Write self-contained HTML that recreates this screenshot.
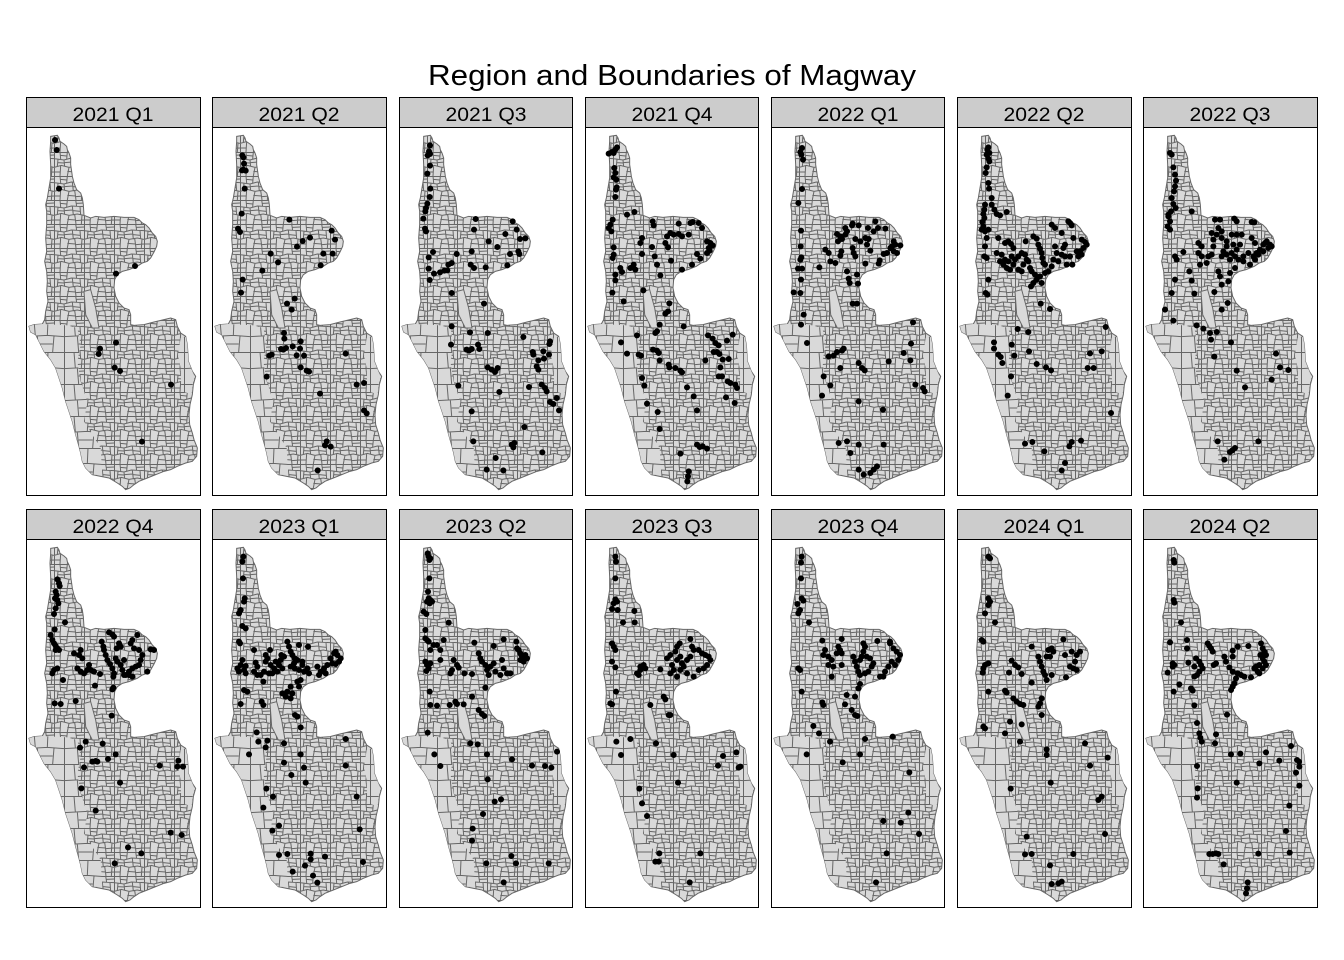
<!DOCTYPE html>
<html><head><meta charset="utf-8"><style>html,body{margin:0;padding:0;background:#fff}svg{display:block}</style></head>
<body>
<svg xmlns="http://www.w3.org/2000/svg" width="1344" height="960" viewBox="0 0 1344 960">
<rect width="1344" height="960" fill="#fff"/>
<defs>
<pattern id="pd" x="0" y="0" width="90" height="72" patternUnits="userSpaceOnUse">
<rect width="90" height="72" fill="#d9d9d9"/>
<path d="M0,1.5H90M1.5,0V72M0,20L30,24L52,18L90,20M0,46L22,40L45,46L70,42L90,46M18,0L20,21M40,0L38,21M65,0L68,19M12,22L10,43M30,24L32,44M55,19L58,45M78,20L80,45M20,41L18,72M45,46L40,72M62,43L66,72M84,46L82,72M0,60H20M40,58L64,60M66,62L90,60M32,32L55,30M68,10L90,9M20,10L38,12M10,32L30,33M58,32L79,34" stroke="#666" stroke-width="3" fill="none"/>
</pattern>
<pattern id="ps" x="0" y="0" width="120" height="96" patternUnits="userSpaceOnUse">
<rect width="120" height="96" fill="#d9d9d9"/>
<path d="M0,1.5H120M1.5,0V96M0,50L70,46L120,50M70,46L72,0M90,48L86,96M40,48L44,96M30,0L34,48M44,72H86" stroke="#666" stroke-width="3" fill="none"/>
</pattern>
</defs>

<text x="672" y="85" text-anchor="middle" font-family="Liberation Sans, Arial, sans-serif" font-size="29" textLength="488" lengthAdjust="spacingAndGlyphs" fill="#000">Region and Boundaries of Magway</text>

<g fill="#ccc" stroke="#000" stroke-width="1">
<rect x="26.5" y="97.5" width="174" height="30"/>
<rect x="212.5" y="97.5" width="174" height="30"/>
<rect x="399.5" y="97.5" width="173" height="30"/>
<rect x="585.5" y="97.5" width="173" height="30"/>
<rect x="771.5" y="97.5" width="173" height="30"/>
<rect x="957.5" y="97.5" width="174" height="30"/>
<rect x="1143.5" y="97.5" width="174" height="30"/>
<rect x="26.5" y="509.5" width="174" height="30"/>
<rect x="212.5" y="509.5" width="174" height="30"/>
<rect x="399.5" y="509.5" width="173" height="30"/>
<rect x="585.5" y="509.5" width="173" height="30"/>
<rect x="771.5" y="509.5" width="173" height="30"/>
<rect x="957.5" y="509.5" width="174" height="30"/>
<rect x="1143.5" y="509.5" width="174" height="30"/>
</g>
<g font-family="Liberation Sans, Arial, sans-serif" font-size="19.5" text-anchor="middle" fill="#000">
<text x="113" y="121" textLength="81" lengthAdjust="spacingAndGlyphs">2021 Q1</text>
<text x="299" y="121" textLength="81" lengthAdjust="spacingAndGlyphs">2021 Q2</text>
<text x="486" y="121" textLength="81" lengthAdjust="spacingAndGlyphs">2021 Q3</text>
<text x="672" y="121" textLength="81" lengthAdjust="spacingAndGlyphs">2021 Q4</text>
<text x="858" y="121" textLength="81" lengthAdjust="spacingAndGlyphs">2022 Q1</text>
<text x="1044" y="121" textLength="81" lengthAdjust="spacingAndGlyphs">2022 Q2</text>
<text x="1230" y="121" textLength="81" lengthAdjust="spacingAndGlyphs">2022 Q3</text>
<text x="113" y="533" textLength="81" lengthAdjust="spacingAndGlyphs">2022 Q4</text>
<text x="299" y="533" textLength="81" lengthAdjust="spacingAndGlyphs">2023 Q1</text>
<text x="486" y="533" textLength="81" lengthAdjust="spacingAndGlyphs">2023 Q2</text>
<text x="672" y="533" textLength="81" lengthAdjust="spacingAndGlyphs">2023 Q3</text>
<text x="858" y="533" textLength="81" lengthAdjust="spacingAndGlyphs">2023 Q4</text>
<text x="1044" y="533" textLength="81" lengthAdjust="spacingAndGlyphs">2024 Q1</text>
<text x="1230" y="533" textLength="81" lengthAdjust="spacingAndGlyphs">2024 Q2</text>
</g>

<!-- maps (inline copies) -->
<g transform="translate(24,128) scale(0.333333)">
<path d="M80,25L100,22L105,30L108,40L120,48L128,55L130,65L135,75L140,90L140,110L143,130L145,145L150,165L158,185L170,195L175,210L178,230L180,262L200,270L215,265L240,268L270,265L300,268L330,268L345,275L355,285L365,290L375,300L385,315L395,325L400,340L398,355L390,372L380,390L370,400L355,405L340,415L315,425L295,430L280,440L272,455L270,480L275,505L285,525L300,540L315,545L320,560L320,590L330,592L360,590L390,582L420,575L440,570L455,575L460,595L470,615L485,625L490,650L492,680L493,700L505,730L515,745L508,770L505,800L498,830L495,860L497,890L505,915L510,935L520,960L518,985L505,1000L485,1005L460,1015L440,1025L420,1030L395,1040L370,1050L345,1060L330,1070L318,1080L305,1085L295,1075L280,1065L255,1050L230,1045L205,1040L185,1020L175,1000L170,975L165,955L155,920L145,880L135,850L125,820L115,780L105,750L95,720L80,695L60,670L45,640L35,620L20,612L15,595L30,590L55,588L62,575L65,550L72,520L68,490L70,460L68,430L62,400L68,370L65,330L68,290L68,250L65,230L70,210L75,180L80,150L80,110L78,70L80,40Z" fill="url(#pd)" stroke="#666" stroke-width="3"/>
<path d="M205,1040L185,1020L175,1000L170,975L165,955L155,920L145,880L135,850L125,820L115,780L105,750L95,720L80,695L60,670L45,640L35,620L20,612L15,595L30,590L55,588L130,592L160,600L170,650L160,700L170,760L190,820L180,880L230,960L235,1042Z" fill="url(#ps)"/>
<path d="M485,625L490,650L492,680L493,700L505,730L512,745L506,770L503,798L472,790L470,720L462,680L470,630Z" fill="url(#ps)"/>
<path d="M180,490L200,485L215,540L225,600L205,600L185,560Z" fill="#d9d9d9" stroke="#666" stroke-width="3"/>
</g>
<g transform="translate(210,128) scale(0.333333)">
<path d="M80,25L100,22L105,30L108,40L120,48L128,55L130,65L135,75L140,90L140,110L143,130L145,145L150,165L158,185L170,195L175,210L178,230L180,262L200,270L215,265L240,268L270,265L300,268L330,268L345,275L355,285L365,290L375,300L385,315L395,325L400,340L398,355L390,372L380,390L370,400L355,405L340,415L315,425L295,430L280,440L272,455L270,480L275,505L285,525L300,540L315,545L320,560L320,590L330,592L360,590L390,582L420,575L440,570L455,575L460,595L470,615L485,625L490,650L492,680L493,700L505,730L515,745L508,770L505,800L498,830L495,860L497,890L505,915L510,935L520,960L518,985L505,1000L485,1005L460,1015L440,1025L420,1030L395,1040L370,1050L345,1060L330,1070L318,1080L305,1085L295,1075L280,1065L255,1050L230,1045L205,1040L185,1020L175,1000L170,975L165,955L155,920L145,880L135,850L125,820L115,780L105,750L95,720L80,695L60,670L45,640L35,620L20,612L15,595L30,590L55,588L62,575L65,550L72,520L68,490L70,460L68,430L62,400L68,370L65,330L68,290L68,250L65,230L70,210L75,180L80,150L80,110L78,70L80,40Z" fill="url(#pd)" stroke="#666" stroke-width="3"/>
<path d="M205,1040L185,1020L175,1000L170,975L165,955L155,920L145,880L135,850L125,820L115,780L105,750L95,720L80,695L60,670L45,640L35,620L20,612L15,595L30,590L55,588L130,592L160,600L170,650L160,700L170,760L190,820L180,880L230,960L235,1042Z" fill="url(#ps)"/>
<path d="M485,625L490,650L492,680L493,700L505,730L512,745L506,770L503,798L472,790L470,720L462,680L470,630Z" fill="url(#ps)"/>
<path d="M180,490L200,485L215,540L225,600L205,600L185,560Z" fill="#d9d9d9" stroke="#666" stroke-width="3"/>
</g>
<g transform="translate(397,128) scale(0.333333)">
<path d="M80,25L100,22L105,30L108,40L120,48L128,55L130,65L135,75L140,90L140,110L143,130L145,145L150,165L158,185L170,195L175,210L178,230L180,262L200,270L215,265L240,268L270,265L300,268L330,268L345,275L355,285L365,290L375,300L385,315L395,325L400,340L398,355L390,372L380,390L370,400L355,405L340,415L315,425L295,430L280,440L272,455L270,480L275,505L285,525L300,540L315,545L320,560L320,590L330,592L360,590L390,582L420,575L440,570L455,575L460,595L470,615L485,625L490,650L492,680L493,700L505,730L515,745L508,770L505,800L498,830L495,860L497,890L505,915L510,935L520,960L518,985L505,1000L485,1005L460,1015L440,1025L420,1030L395,1040L370,1050L345,1060L330,1070L318,1080L305,1085L295,1075L280,1065L255,1050L230,1045L205,1040L185,1020L175,1000L170,975L165,955L155,920L145,880L135,850L125,820L115,780L105,750L95,720L80,695L60,670L45,640L35,620L20,612L15,595L30,590L55,588L62,575L65,550L72,520L68,490L70,460L68,430L62,400L68,370L65,330L68,290L68,250L65,230L70,210L75,180L80,150L80,110L78,70L80,40Z" fill="url(#pd)" stroke="#666" stroke-width="3"/>
<path d="M205,1040L185,1020L175,1000L170,975L165,955L155,920L145,880L135,850L125,820L115,780L105,750L95,720L80,695L60,670L45,640L35,620L20,612L15,595L30,590L55,588L130,592L160,600L170,650L160,700L170,760L190,820L180,880L230,960L235,1042Z" fill="url(#ps)"/>
<path d="M485,625L490,650L492,680L493,700L505,730L512,745L506,770L503,798L472,790L470,720L462,680L470,630Z" fill="url(#ps)"/>
<path d="M180,490L200,485L215,540L225,600L205,600L185,560Z" fill="#d9d9d9" stroke="#666" stroke-width="3"/>
</g>
<g transform="translate(583,128) scale(0.333333)">
<path d="M80,25L100,22L105,30L108,40L120,48L128,55L130,65L135,75L140,90L140,110L143,130L145,145L150,165L158,185L170,195L175,210L178,230L180,262L200,270L215,265L240,268L270,265L300,268L330,268L345,275L355,285L365,290L375,300L385,315L395,325L400,340L398,355L390,372L380,390L370,400L355,405L340,415L315,425L295,430L280,440L272,455L270,480L275,505L285,525L300,540L315,545L320,560L320,590L330,592L360,590L390,582L420,575L440,570L455,575L460,595L470,615L485,625L490,650L492,680L493,700L505,730L515,745L508,770L505,800L498,830L495,860L497,890L505,915L510,935L520,960L518,985L505,1000L485,1005L460,1015L440,1025L420,1030L395,1040L370,1050L345,1060L330,1070L318,1080L305,1085L295,1075L280,1065L255,1050L230,1045L205,1040L185,1020L175,1000L170,975L165,955L155,920L145,880L135,850L125,820L115,780L105,750L95,720L80,695L60,670L45,640L35,620L20,612L15,595L30,590L55,588L62,575L65,550L72,520L68,490L70,460L68,430L62,400L68,370L65,330L68,290L68,250L65,230L70,210L75,180L80,150L80,110L78,70L80,40Z" fill="url(#pd)" stroke="#666" stroke-width="3"/>
<path d="M205,1040L185,1020L175,1000L170,975L165,955L155,920L145,880L135,850L125,820L115,780L105,750L95,720L80,695L60,670L45,640L35,620L20,612L15,595L30,590L55,588L130,592L160,600L170,650L160,700L170,760L190,820L180,880L230,960L235,1042Z" fill="url(#ps)"/>
<path d="M485,625L490,650L492,680L493,700L505,730L512,745L506,770L503,798L472,790L470,720L462,680L470,630Z" fill="url(#ps)"/>
<path d="M180,490L200,485L215,540L225,600L205,600L185,560Z" fill="#d9d9d9" stroke="#666" stroke-width="3"/>
</g>
<g transform="translate(769,128) scale(0.333333)">
<path d="M80,25L100,22L105,30L108,40L120,48L128,55L130,65L135,75L140,90L140,110L143,130L145,145L150,165L158,185L170,195L175,210L178,230L180,262L200,270L215,265L240,268L270,265L300,268L330,268L345,275L355,285L365,290L375,300L385,315L395,325L400,340L398,355L390,372L380,390L370,400L355,405L340,415L315,425L295,430L280,440L272,455L270,480L275,505L285,525L300,540L315,545L320,560L320,590L330,592L360,590L390,582L420,575L440,570L455,575L460,595L470,615L485,625L490,650L492,680L493,700L505,730L515,745L508,770L505,800L498,830L495,860L497,890L505,915L510,935L520,960L518,985L505,1000L485,1005L460,1015L440,1025L420,1030L395,1040L370,1050L345,1060L330,1070L318,1080L305,1085L295,1075L280,1065L255,1050L230,1045L205,1040L185,1020L175,1000L170,975L165,955L155,920L145,880L135,850L125,820L115,780L105,750L95,720L80,695L60,670L45,640L35,620L20,612L15,595L30,590L55,588L62,575L65,550L72,520L68,490L70,460L68,430L62,400L68,370L65,330L68,290L68,250L65,230L70,210L75,180L80,150L80,110L78,70L80,40Z" fill="url(#pd)" stroke="#666" stroke-width="3"/>
<path d="M205,1040L185,1020L175,1000L170,975L165,955L155,920L145,880L135,850L125,820L115,780L105,750L95,720L80,695L60,670L45,640L35,620L20,612L15,595L30,590L55,588L130,592L160,600L170,650L160,700L170,760L190,820L180,880L230,960L235,1042Z" fill="url(#ps)"/>
<path d="M485,625L490,650L492,680L493,700L505,730L512,745L506,770L503,798L472,790L470,720L462,680L470,630Z" fill="url(#ps)"/>
<path d="M180,490L200,485L215,540L225,600L205,600L185,560Z" fill="#d9d9d9" stroke="#666" stroke-width="3"/>
</g>
<g transform="translate(955,128) scale(0.333333)">
<path d="M80,25L100,22L105,30L108,40L120,48L128,55L130,65L135,75L140,90L140,110L143,130L145,145L150,165L158,185L170,195L175,210L178,230L180,262L200,270L215,265L240,268L270,265L300,268L330,268L345,275L355,285L365,290L375,300L385,315L395,325L400,340L398,355L390,372L380,390L370,400L355,405L340,415L315,425L295,430L280,440L272,455L270,480L275,505L285,525L300,540L315,545L320,560L320,590L330,592L360,590L390,582L420,575L440,570L455,575L460,595L470,615L485,625L490,650L492,680L493,700L505,730L515,745L508,770L505,800L498,830L495,860L497,890L505,915L510,935L520,960L518,985L505,1000L485,1005L460,1015L440,1025L420,1030L395,1040L370,1050L345,1060L330,1070L318,1080L305,1085L295,1075L280,1065L255,1050L230,1045L205,1040L185,1020L175,1000L170,975L165,955L155,920L145,880L135,850L125,820L115,780L105,750L95,720L80,695L60,670L45,640L35,620L20,612L15,595L30,590L55,588L62,575L65,550L72,520L68,490L70,460L68,430L62,400L68,370L65,330L68,290L68,250L65,230L70,210L75,180L80,150L80,110L78,70L80,40Z" fill="url(#pd)" stroke="#666" stroke-width="3"/>
<path d="M205,1040L185,1020L175,1000L170,975L165,955L155,920L145,880L135,850L125,820L115,780L105,750L95,720L80,695L60,670L45,640L35,620L20,612L15,595L30,590L55,588L130,592L160,600L170,650L160,700L170,760L190,820L180,880L230,960L235,1042Z" fill="url(#ps)"/>
<path d="M485,625L490,650L492,680L493,700L505,730L512,745L506,770L503,798L472,790L470,720L462,680L470,630Z" fill="url(#ps)"/>
<path d="M180,490L200,485L215,540L225,600L205,600L185,560Z" fill="#d9d9d9" stroke="#666" stroke-width="3"/>
</g>
<g transform="translate(1141,128) scale(0.333333)">
<path d="M80,25L100,22L105,30L108,40L120,48L128,55L130,65L135,75L140,90L140,110L143,130L145,145L150,165L158,185L170,195L175,210L178,230L180,262L200,270L215,265L240,268L270,265L300,268L330,268L345,275L355,285L365,290L375,300L385,315L395,325L400,340L398,355L390,372L380,390L370,400L355,405L340,415L315,425L295,430L280,440L272,455L270,480L275,505L285,525L300,540L315,545L320,560L320,590L330,592L360,590L390,582L420,575L440,570L455,575L460,595L470,615L485,625L490,650L492,680L493,700L505,730L515,745L508,770L505,800L498,830L495,860L497,890L505,915L510,935L520,960L518,985L505,1000L485,1005L460,1015L440,1025L420,1030L395,1040L370,1050L345,1060L330,1070L318,1080L305,1085L295,1075L280,1065L255,1050L230,1045L205,1040L185,1020L175,1000L170,975L165,955L155,920L145,880L135,850L125,820L115,780L105,750L95,720L80,695L60,670L45,640L35,620L20,612L15,595L30,590L55,588L62,575L65,550L72,520L68,490L70,460L68,430L62,400L68,370L65,330L68,290L68,250L65,230L70,210L75,180L80,150L80,110L78,70L80,40Z" fill="url(#pd)" stroke="#666" stroke-width="3"/>
<path d="M205,1040L185,1020L175,1000L170,975L165,955L155,920L145,880L135,850L125,820L115,780L105,750L95,720L80,695L60,670L45,640L35,620L20,612L15,595L30,590L55,588L130,592L160,600L170,650L160,700L170,760L190,820L180,880L230,960L235,1042Z" fill="url(#ps)"/>
<path d="M485,625L490,650L492,680L493,700L505,730L512,745L506,770L503,798L472,790L470,720L462,680L470,630Z" fill="url(#ps)"/>
<path d="M180,490L200,485L215,540L225,600L205,600L185,560Z" fill="#d9d9d9" stroke="#666" stroke-width="3"/>
</g>
<g transform="translate(24,540) scale(0.333333)">
<path d="M80,25L100,22L105,30L108,40L120,48L128,55L130,65L135,75L140,90L140,110L143,130L145,145L150,165L158,185L170,195L175,210L178,230L180,262L200,270L215,265L240,268L270,265L300,268L330,268L345,275L355,285L365,290L375,300L385,315L395,325L400,340L398,355L390,372L380,390L370,400L355,405L340,415L315,425L295,430L280,440L272,455L270,480L275,505L285,525L300,540L315,545L320,560L320,590L330,592L360,590L390,582L420,575L440,570L455,575L460,595L470,615L485,625L490,650L492,680L493,700L505,730L515,745L508,770L505,800L498,830L495,860L497,890L505,915L510,935L520,960L518,985L505,1000L485,1005L460,1015L440,1025L420,1030L395,1040L370,1050L345,1060L330,1070L318,1080L305,1085L295,1075L280,1065L255,1050L230,1045L205,1040L185,1020L175,1000L170,975L165,955L155,920L145,880L135,850L125,820L115,780L105,750L95,720L80,695L60,670L45,640L35,620L20,612L15,595L30,590L55,588L62,575L65,550L72,520L68,490L70,460L68,430L62,400L68,370L65,330L68,290L68,250L65,230L70,210L75,180L80,150L80,110L78,70L80,40Z" fill="url(#pd)" stroke="#666" stroke-width="3"/>
<path d="M205,1040L185,1020L175,1000L170,975L165,955L155,920L145,880L135,850L125,820L115,780L105,750L95,720L80,695L60,670L45,640L35,620L20,612L15,595L30,590L55,588L130,592L160,600L170,650L160,700L170,760L190,820L180,880L230,960L235,1042Z" fill="url(#ps)"/>
<path d="M485,625L490,650L492,680L493,700L505,730L512,745L506,770L503,798L472,790L470,720L462,680L470,630Z" fill="url(#ps)"/>
<path d="M180,490L200,485L215,540L225,600L205,600L185,560Z" fill="#d9d9d9" stroke="#666" stroke-width="3"/>
</g>
<g transform="translate(210,540) scale(0.333333)">
<path d="M80,25L100,22L105,30L108,40L120,48L128,55L130,65L135,75L140,90L140,110L143,130L145,145L150,165L158,185L170,195L175,210L178,230L180,262L200,270L215,265L240,268L270,265L300,268L330,268L345,275L355,285L365,290L375,300L385,315L395,325L400,340L398,355L390,372L380,390L370,400L355,405L340,415L315,425L295,430L280,440L272,455L270,480L275,505L285,525L300,540L315,545L320,560L320,590L330,592L360,590L390,582L420,575L440,570L455,575L460,595L470,615L485,625L490,650L492,680L493,700L505,730L515,745L508,770L505,800L498,830L495,860L497,890L505,915L510,935L520,960L518,985L505,1000L485,1005L460,1015L440,1025L420,1030L395,1040L370,1050L345,1060L330,1070L318,1080L305,1085L295,1075L280,1065L255,1050L230,1045L205,1040L185,1020L175,1000L170,975L165,955L155,920L145,880L135,850L125,820L115,780L105,750L95,720L80,695L60,670L45,640L35,620L20,612L15,595L30,590L55,588L62,575L65,550L72,520L68,490L70,460L68,430L62,400L68,370L65,330L68,290L68,250L65,230L70,210L75,180L80,150L80,110L78,70L80,40Z" fill="url(#pd)" stroke="#666" stroke-width="3"/>
<path d="M205,1040L185,1020L175,1000L170,975L165,955L155,920L145,880L135,850L125,820L115,780L105,750L95,720L80,695L60,670L45,640L35,620L20,612L15,595L30,590L55,588L130,592L160,600L170,650L160,700L170,760L190,820L180,880L230,960L235,1042Z" fill="url(#ps)"/>
<path d="M485,625L490,650L492,680L493,700L505,730L512,745L506,770L503,798L472,790L470,720L462,680L470,630Z" fill="url(#ps)"/>
<path d="M180,490L200,485L215,540L225,600L205,600L185,560Z" fill="#d9d9d9" stroke="#666" stroke-width="3"/>
</g>
<g transform="translate(397,540) scale(0.333333)">
<path d="M80,25L100,22L105,30L108,40L120,48L128,55L130,65L135,75L140,90L140,110L143,130L145,145L150,165L158,185L170,195L175,210L178,230L180,262L200,270L215,265L240,268L270,265L300,268L330,268L345,275L355,285L365,290L375,300L385,315L395,325L400,340L398,355L390,372L380,390L370,400L355,405L340,415L315,425L295,430L280,440L272,455L270,480L275,505L285,525L300,540L315,545L320,560L320,590L330,592L360,590L390,582L420,575L440,570L455,575L460,595L470,615L485,625L490,650L492,680L493,700L505,730L515,745L508,770L505,800L498,830L495,860L497,890L505,915L510,935L520,960L518,985L505,1000L485,1005L460,1015L440,1025L420,1030L395,1040L370,1050L345,1060L330,1070L318,1080L305,1085L295,1075L280,1065L255,1050L230,1045L205,1040L185,1020L175,1000L170,975L165,955L155,920L145,880L135,850L125,820L115,780L105,750L95,720L80,695L60,670L45,640L35,620L20,612L15,595L30,590L55,588L62,575L65,550L72,520L68,490L70,460L68,430L62,400L68,370L65,330L68,290L68,250L65,230L70,210L75,180L80,150L80,110L78,70L80,40Z" fill="url(#pd)" stroke="#666" stroke-width="3"/>
<path d="M205,1040L185,1020L175,1000L170,975L165,955L155,920L145,880L135,850L125,820L115,780L105,750L95,720L80,695L60,670L45,640L35,620L20,612L15,595L30,590L55,588L130,592L160,600L170,650L160,700L170,760L190,820L180,880L230,960L235,1042Z" fill="url(#ps)"/>
<path d="M485,625L490,650L492,680L493,700L505,730L512,745L506,770L503,798L472,790L470,720L462,680L470,630Z" fill="url(#ps)"/>
<path d="M180,490L200,485L215,540L225,600L205,600L185,560Z" fill="#d9d9d9" stroke="#666" stroke-width="3"/>
</g>
<g transform="translate(583,540) scale(0.333333)">
<path d="M80,25L100,22L105,30L108,40L120,48L128,55L130,65L135,75L140,90L140,110L143,130L145,145L150,165L158,185L170,195L175,210L178,230L180,262L200,270L215,265L240,268L270,265L300,268L330,268L345,275L355,285L365,290L375,300L385,315L395,325L400,340L398,355L390,372L380,390L370,400L355,405L340,415L315,425L295,430L280,440L272,455L270,480L275,505L285,525L300,540L315,545L320,560L320,590L330,592L360,590L390,582L420,575L440,570L455,575L460,595L470,615L485,625L490,650L492,680L493,700L505,730L515,745L508,770L505,800L498,830L495,860L497,890L505,915L510,935L520,960L518,985L505,1000L485,1005L460,1015L440,1025L420,1030L395,1040L370,1050L345,1060L330,1070L318,1080L305,1085L295,1075L280,1065L255,1050L230,1045L205,1040L185,1020L175,1000L170,975L165,955L155,920L145,880L135,850L125,820L115,780L105,750L95,720L80,695L60,670L45,640L35,620L20,612L15,595L30,590L55,588L62,575L65,550L72,520L68,490L70,460L68,430L62,400L68,370L65,330L68,290L68,250L65,230L70,210L75,180L80,150L80,110L78,70L80,40Z" fill="url(#pd)" stroke="#666" stroke-width="3"/>
<path d="M205,1040L185,1020L175,1000L170,975L165,955L155,920L145,880L135,850L125,820L115,780L105,750L95,720L80,695L60,670L45,640L35,620L20,612L15,595L30,590L55,588L130,592L160,600L170,650L160,700L170,760L190,820L180,880L230,960L235,1042Z" fill="url(#ps)"/>
<path d="M485,625L490,650L492,680L493,700L505,730L512,745L506,770L503,798L472,790L470,720L462,680L470,630Z" fill="url(#ps)"/>
<path d="M180,490L200,485L215,540L225,600L205,600L185,560Z" fill="#d9d9d9" stroke="#666" stroke-width="3"/>
</g>
<g transform="translate(769,540) scale(0.333333)">
<path d="M80,25L100,22L105,30L108,40L120,48L128,55L130,65L135,75L140,90L140,110L143,130L145,145L150,165L158,185L170,195L175,210L178,230L180,262L200,270L215,265L240,268L270,265L300,268L330,268L345,275L355,285L365,290L375,300L385,315L395,325L400,340L398,355L390,372L380,390L370,400L355,405L340,415L315,425L295,430L280,440L272,455L270,480L275,505L285,525L300,540L315,545L320,560L320,590L330,592L360,590L390,582L420,575L440,570L455,575L460,595L470,615L485,625L490,650L492,680L493,700L505,730L515,745L508,770L505,800L498,830L495,860L497,890L505,915L510,935L520,960L518,985L505,1000L485,1005L460,1015L440,1025L420,1030L395,1040L370,1050L345,1060L330,1070L318,1080L305,1085L295,1075L280,1065L255,1050L230,1045L205,1040L185,1020L175,1000L170,975L165,955L155,920L145,880L135,850L125,820L115,780L105,750L95,720L80,695L60,670L45,640L35,620L20,612L15,595L30,590L55,588L62,575L65,550L72,520L68,490L70,460L68,430L62,400L68,370L65,330L68,290L68,250L65,230L70,210L75,180L80,150L80,110L78,70L80,40Z" fill="url(#pd)" stroke="#666" stroke-width="3"/>
<path d="M205,1040L185,1020L175,1000L170,975L165,955L155,920L145,880L135,850L125,820L115,780L105,750L95,720L80,695L60,670L45,640L35,620L20,612L15,595L30,590L55,588L130,592L160,600L170,650L160,700L170,760L190,820L180,880L230,960L235,1042Z" fill="url(#ps)"/>
<path d="M485,625L490,650L492,680L493,700L505,730L512,745L506,770L503,798L472,790L470,720L462,680L470,630Z" fill="url(#ps)"/>
<path d="M180,490L200,485L215,540L225,600L205,600L185,560Z" fill="#d9d9d9" stroke="#666" stroke-width="3"/>
</g>
<g transform="translate(955,540) scale(0.333333)">
<path d="M80,25L100,22L105,30L108,40L120,48L128,55L130,65L135,75L140,90L140,110L143,130L145,145L150,165L158,185L170,195L175,210L178,230L180,262L200,270L215,265L240,268L270,265L300,268L330,268L345,275L355,285L365,290L375,300L385,315L395,325L400,340L398,355L390,372L380,390L370,400L355,405L340,415L315,425L295,430L280,440L272,455L270,480L275,505L285,525L300,540L315,545L320,560L320,590L330,592L360,590L390,582L420,575L440,570L455,575L460,595L470,615L485,625L490,650L492,680L493,700L505,730L515,745L508,770L505,800L498,830L495,860L497,890L505,915L510,935L520,960L518,985L505,1000L485,1005L460,1015L440,1025L420,1030L395,1040L370,1050L345,1060L330,1070L318,1080L305,1085L295,1075L280,1065L255,1050L230,1045L205,1040L185,1020L175,1000L170,975L165,955L155,920L145,880L135,850L125,820L115,780L105,750L95,720L80,695L60,670L45,640L35,620L20,612L15,595L30,590L55,588L62,575L65,550L72,520L68,490L70,460L68,430L62,400L68,370L65,330L68,290L68,250L65,230L70,210L75,180L80,150L80,110L78,70L80,40Z" fill="url(#pd)" stroke="#666" stroke-width="3"/>
<path d="M205,1040L185,1020L175,1000L170,975L165,955L155,920L145,880L135,850L125,820L115,780L105,750L95,720L80,695L60,670L45,640L35,620L20,612L15,595L30,590L55,588L130,592L160,600L170,650L160,700L170,760L190,820L180,880L230,960L235,1042Z" fill="url(#ps)"/>
<path d="M485,625L490,650L492,680L493,700L505,730L512,745L506,770L503,798L472,790L470,720L462,680L470,630Z" fill="url(#ps)"/>
<path d="M180,490L200,485L215,540L225,600L205,600L185,560Z" fill="#d9d9d9" stroke="#666" stroke-width="3"/>
</g>
<g transform="translate(1141,540) scale(0.333333)">
<path d="M80,25L100,22L105,30L108,40L120,48L128,55L130,65L135,75L140,90L140,110L143,130L145,145L150,165L158,185L170,195L175,210L178,230L180,262L200,270L215,265L240,268L270,265L300,268L330,268L345,275L355,285L365,290L375,300L385,315L395,325L400,340L398,355L390,372L380,390L370,400L355,405L340,415L315,425L295,430L280,440L272,455L270,480L275,505L285,525L300,540L315,545L320,560L320,590L330,592L360,590L390,582L420,575L440,570L455,575L460,595L470,615L485,625L490,650L492,680L493,700L505,730L515,745L508,770L505,800L498,830L495,860L497,890L505,915L510,935L520,960L518,985L505,1000L485,1005L460,1015L440,1025L420,1030L395,1040L370,1050L345,1060L330,1070L318,1080L305,1085L295,1075L280,1065L255,1050L230,1045L205,1040L185,1020L175,1000L170,975L165,955L155,920L145,880L135,850L125,820L115,780L105,750L95,720L80,695L60,670L45,640L35,620L20,612L15,595L30,590L55,588L62,575L65,550L72,520L68,490L70,460L68,430L62,400L68,370L65,330L68,290L68,250L65,230L70,210L75,180L80,150L80,110L78,70L80,40Z" fill="url(#pd)" stroke="#666" stroke-width="3"/>
<path d="M205,1040L185,1020L175,1000L170,975L165,955L155,920L145,880L135,850L125,820L115,780L105,750L95,720L80,695L60,670L45,640L35,620L20,612L15,595L30,590L55,588L130,592L160,600L170,650L160,700L170,760L190,820L180,880L230,960L235,1042Z" fill="url(#ps)"/>
<path d="M485,625L490,650L492,680L493,700L505,730L512,745L506,770L503,798L472,790L470,720L462,680L470,630Z" fill="url(#ps)"/>
<path d="M180,490L200,485L215,540L225,600L205,600L185,560Z" fill="#d9d9d9" stroke="#666" stroke-width="3"/>
</g>

<!-- panel frames -->
<g fill="none" stroke="#000" stroke-width="1">
<rect x="26.5" y="127.5" width="174" height="368"/>
<rect x="212.5" y="127.5" width="174" height="368"/>
<rect x="399.5" y="127.5" width="173" height="368"/>
<rect x="585.5" y="127.5" width="173" height="368"/>
<rect x="771.5" y="127.5" width="173" height="368"/>
<rect x="957.5" y="127.5" width="174" height="368"/>
<rect x="1143.5" y="127.5" width="174" height="368"/>
<rect x="26.5" y="539.5" width="174" height="368"/>
<rect x="212.5" y="539.5" width="174" height="368"/>
<rect x="399.5" y="539.5" width="173" height="368"/>
<rect x="585.5" y="539.5" width="173" height="368"/>
<rect x="771.5" y="539.5" width="173" height="368"/>
<rect x="957.5" y="539.5" width="174" height="368"/>
<rect x="1143.5" y="539.5" width="174" height="368"/>
</g>

<!-- dots -->
<g fill="none" stroke="#000" stroke-width="18" stroke-linecap="round">
<path transform="translate(20,90) scale(0.333333)" d="M105 150h0.1M110 180h0.1M117 296h0.1M345 528h0.1M288 551h0.1M288 758h0.1M240 776h0.1M236 792h0.1M284 833h0.1M300 843h0.1M453 884h0.1M366 1055h0.1"/>

<path transform="translate(210,128) scale(0.333333)" d="M97 82h0.1M100 88h0.1M102 107h0.1M100 125h0.1M107 128h0.1M96 127h0.1M104 182h0.1M95 257h0.1M84 302h0.1M90 312h0.1M238 275h0.1M365 308h0.1M300 329h0.1M278 339h0.1M375 335h0.1M261 356h0.1M182 377h0.1M340 377h0.1M368 377h0.1M204 403h0.1M332 412h0.1M157 428h0.1M98 455h0.1M93 494h0.1M254 512h0.1M231 527h0.1M245 545h0.1M222 615h0.1M223 632h0.1M213 663h0.1M220 665h0.1M228 660h0.1M248 655h0.1M272 640h0.1M270 662h0.1M178 683h0.1M185 680h0.1M260 682h0.1M282 683h0.1M272 718h0.1M290 728h0.1M297 731h0.1M407 677h0.1M170 746h0.1M330 797h0.1M440 770h0.1M462 765h0.1M462 847h0.1M470 856h0.1M350 940h0.1M345 952h0.1M362 956h0.1M323 1027h0.1
M660 52h0.1M657 70h0.1M660 78h0.1M653 82h0.1M660 113h0.1M652 137h0.1M661 182h0.1M659 207h0.1M652 227h0.1M648 240h0.1M646 250h0.1M640 272h0.1M645 302h0.1M648 310h0.1M797 273h0.1M908 280h0.1M792 305h0.1M920 305h0.1M930 333h0.1M946 331h0.1M886 318h0.1M836 340h0.1M862 357h0.1M785 370h0.1M740 378h0.1M669 372h0.1M925 370h0.1M928 378h0.1M900 378h0.1M656 388h0.1M715 410h0.1M725 405h0.1M703 428h0.1M690 433h0.1M712 427h0.1M782 410h0.1M792 420h0.1M827 418h0.1M892 412h0.1M656 422h0.1M672 437h0.1M659 456h0.1M725 495h0.1M822 527h0.1M725 595h0.1M780 613h0.1M833 615h0.1M940 627h0.1M1020 640h0.1M1018 648h0.1M723 650h0.1M770 665h0.1M785 663h0.1M777 668h0.1M808 663h0.1M804 650h0.1M968 672h0.1M970 680h0.1M1000 670h0.1M1017 680h0.1M985 697h0.1M1002 692h0.1M980 715h0.1M985 725h0.1M833 718h0.1M845 725h0.1M855 732h0.1M863 720h0.1M745 773h0.1M868 792h0.1M957 777h0.1M995 770h0.1M1005 780h0.1M1010 790h0.1M1040 810h0.1M1020 822h0.1M1030 828h0.1M1047 847h0.1M785 850h0.1M943 897h0.1M790 940h0.1M905 950h0.1M913 945h0.1M910 958h0.1M997 973h0.1M857 990h0.1M830 1025h0.1M880 1027h0.1"/>

<path transform="translate(582,128) scale(0.333333)" d="M80 77h0.1M90 72h0.1M100 65h0.1M105 58h0.1M95 75h0.1M97 120h0.1M100 135h0.1M95 148h0.1M103 155h0.1M104 178h0.1M102 185h0.1M100 207h0.1M135 260h0.1M157 252h0.1M92 275h0.1M85 290h0.1M80 300h0.1M88 310h0.1M212 280h0.1M215 292h0.1M290 287h0.1M325 285h0.1M332 282h0.1M350 285h0.1M360 300h0.1M265 315h0.1M275 320h0.1M290 318h0.1M255 325h0.1M250 345h0.1M258 358h0.1M300 325h0.1M320 320h0.1M375 340h0.1M385 345h0.1M380 360h0.1M375 375h0.1M392 352h0.1M383 368h0.1M180 330h0.1M175 345h0.1M210 357h0.1M95 358h0.1M95 380h0.1M92 390h0.1M180 378h0.1M218 385h0.1M267 398h0.1M225 410h0.1M300 425h0.1M345 378h0.1M330 410h0.1M355 392h0.1M155 410h0.1M160 425h0.1M145 420h0.1M115 420h0.1M120 432h0.1M100 440h0.1M100 457h0.1M235 442h0.1M184 487h0.1M91 494h0.1M125 520h0.1M262 526h0.1M258 550h0.1M250 557h0.1M233 590h0.1M225 610h0.1M220 615h0.1M305 595h0.1M165 622h0.1M117 643h0.1M213 665h0.1M225 668h0.1M230 675h0.1M135 677h0.1M177 683h0.1M170 680h0.1M378 622h0.1M392 632h0.1M400 645h0.1M410 652h0.1M452 620h0.1M435 638h0.1M395 672h0.1M405 672h0.1M412 678h0.1M370 697h0.1M422 695h0.1M440 693h0.1M260 710h0.1M262 718h0.1M233 697h0.1M280 720h0.1M295 728h0.1M300 733h0.1M415 718h0.1M420 745h0.1M410 745h0.1M437 760h0.1M445 765h0.1M460 770h0.1M465 780h0.1M180 750h0.1M187 773h0.1M315 778h0.1M335 805h0.1M432 808h0.1M458 825h0.1M195 827h0.1M227 852h0.1M345 847h0.1M233 903h0.1M345 950h0.1M353 957h0.1M362 955h0.1M375 962h0.1M295 977h0.1M320 1030h0.1M318 1045h0.1M316 1060h0.1
M660 60h0.1M658 80h0.1M663 95h0.1M655 72h0.1M660 183h0.1M649 225h0.1M657 308h0.1M656 355h0.1M658 388h0.1M655 395h0.1M648 422h0.1M660 422h0.1M657 455h0.1M635 493h0.1M655 495h0.1M665 560h0.1M657 590h0.1M675 645h0.1M755 683h0.1M740 685h0.1M765 672h0.1M780 668h0.1M785 662h0.1M725 745h0.1M745 772h0.1M720 803h0.1M790 300h0.1M795 310h0.1M810 292h0.1M765 318h0.1M775 325h0.1M790 320h0.1M780 333h0.1M768 340h0.1M812 287h0.1M830 292h0.1M858 300h0.1M880 280h0.1M888 300h0.1M875 310h0.1M910 302h0.1M820 333h0.1M835 340h0.1M850 330h0.1M860 333h0.1M855 350h0.1M730 365h0.1M740 375h0.1M775 383h0.1M778 370h0.1M812 360h0.1M815 375h0.1M820 385h0.1M865 368h0.1M905 378h0.1M915 375h0.1M925 360h0.1M935 340h0.1M940 350h0.1M935 370h0.1M955 352h0.1M945 375h0.1M930 355h0.1M890 407h0.1M893 397h0.1M745 400h0.1M760 405h0.1M712 418h0.1M850 407h0.1M795 430h0.1M800 452h0.1M825 440h0.1M803 465h0.1M828 467h0.1M812 527h0.1M825 527h0.1M993 583h0.1M987 647h0.1M965 675h0.1M985 697h0.1M920 700h0.1M775 720h0.1M830 705h0.1M840 720h0.1M848 727h0.1M1000 770h0.1M1023 780h0.1M1028 790h0.1M830 820h0.1M903 845h0.1M770 945h0.1M795 940h0.1M830 950h0.1M805 975h0.1M905 950h0.1M830 1025h0.1M845 1040h0.1M865 1035h0.1M875 1025h0.1M885 1015h0.1"/>

<path transform="translate(955,128) scale(0.333333)" d="M100 58h0.1M97 65h0.1M103 75h0.1M95 80h0.1M100 92h0.1M103 100h0.1M95 118h0.1M92 135h0.1M100 165h0.1M102 182h0.1M110 210h0.1M90 230h0.1M88 245h0.1M85 258h0.1M88 270h0.1M82 282h0.1M85 295h0.1M80 305h0.1M90 310h0.1M100 305h0.1M110 230h0.1M118 245h0.1M125 258h0.1M135 262h0.1M155 252h0.1M95 330h0.1M130 330h0.1M90 355h0.1M125 375h0.1M88 385h0.1M95 390h0.1M290 290h0.1M300 300h0.1M320 315h0.1M345 285h0.1M340 280h0.1M350 292h0.1M235 325h0.1M245 332h0.1M212 340h0.1M150 345h0.1M160 340h0.1M168 348h0.1M175 360h0.1M250 350h0.1M255 362h0.1M260 375h0.1M262 390h0.1M270 410h0.1M330 350h0.1M325 360h0.1M355 330h0.1M380 335h0.1M390 342h0.1M395 350h0.1M385 360h0.1M375 370h0.1M380 380h0.1M370 385h0.1M365 370h0.1M300 355h0.1M305 375h0.1M295 395h0.1M310 400h0.1M320 380h0.1M330 385h0.1M345 385h0.1M352 410h0.1M335 410h0.1M140 380h0.1M150 395h0.1M135 400h0.1M145 410h0.1M155 420h0.1M165 425h0.1M175 410h0.1M180 395h0.1M190 385h0.1M200 375h0.1M210 380h0.1M215 395h0.1M205 410h0.1M190 425h0.1M200 430h0.1M225 420h0.1M230 430h0.1M240 440h0.1M245 455h0.1M235 465h0.1M228 475h0.1M260 465h0.1M255 445h0.1M270 435h0.1M280 430h0.1M290 415h0.1M265 405h0.1M220 400h0.1M160 400h0.1M170 385h0.1M100 455h0.1M92 495h0.1M97 500h0.1M257 527h0.1M285 543h0.1M188 603h0.1M220 612h0.1M117 643h0.1M117 662h0.1M170 650h0.1M222 670h0.1M178 683h0.1M130 680h0.1M137 687h0.1M142 705h0.1M245 708h0.1M273 718h0.1M288 727h0.1M168 745h0.1M158 803h0.1M452 597h0.1M405 676h0.1M440 670h0.1M398 720h0.1M416 720h0.1M468 855h0.1M210 947h0.1M232 942h0.1M268 970h0.1M343 955h0.1M350 942h0.1M378 938h0.1M330 1005h0.1M320 1027h0.1
M645 75h0.1M650 80h0.1M655 118h0.1M660 140h0.1M663 158h0.1M660 175h0.1M657 190h0.1M650 210h0.1M655 228h0.1M662 240h0.1M648 250h0.1M640 265h0.1M645 280h0.1M638 295h0.1M645 305h0.1M640 260h0.1M710 250h0.1M780 275h0.1M795 275h0.1M838 272h0.1M845 280h0.1M890 282h0.1M898 283h0.1M790 300h0.1M800 310h0.1M785 320h0.1M770 315h0.1M775 335h0.1M800 330h0.1M815 340h0.1M830 320h0.1M845 320h0.1M860 320h0.1M835 350h0.1M815 355h0.1M805 370h0.1M800 385h0.1M815 380h0.1M830 375h0.1M845 365h0.1M855 350h0.1M825 395h0.1M840 385h0.1M850 395h0.1M865 385h0.1M880 375h0.1M895 385h0.1M905 375h0.1M915 365h0.1M925 350h0.1M935 340h0.1M945 350h0.1M940 360h0.1M925 370h0.1M910 380h0.1M900 395h0.1M885 410h0.1M890 330h0.1M900 345h0.1M865 400h0.1M950 355h0.1M930 345h0.1M730 345h0.1M740 355h0.1M775 355h0.1M730 375h0.1M740 385h0.1M760 385h0.1M770 380h0.1M735 410h0.1M755 405h0.1M665 395h0.1M660 385h0.1M685 372h0.1M703 430h0.1M790 430h0.1M795 445h0.1M800 470h0.1M820 460h0.1M825 435h0.1M840 420h0.1M710 458h0.1M660 455h0.1M650 495h0.1M718 497h0.1M778 492h0.1M818 525h0.1M800 545h0.1M630 545h0.1M655 578h0.1M725 592h0.1M745 602h0.1M765 615h0.1M768 635h0.1M785 612h0.1M828 643h0.1M778 686h0.1M963 677h0.1M975 718h0.1M1000 726h0.1M845 728h0.1M950 755h0.1M870 778h0.1M788 940h0.1M910 940h0.1M840 960h0.1M825 972h0.1M832 967h0.1M808 995h0.1"/>

<path transform="translate(24,540) scale(0.333333)" d="M100 118h0.1M105 130h0.1M107 138h0.1M95 155h0.1M98 165h0.1M93 175h0.1M100 180h0.1M103 190h0.1M95 205h0.1M90 222h0.1M123 247h0.1M92 268h0.1M80 285h0.1M85 300h0.1M90 310h0.1M95 318h0.1M100 325h0.1M105 330h0.1M95 330h0.1M255 277h0.1M265 283h0.1M270 290h0.1M340 285h0.1M325 300h0.1M320 310h0.1M380 328h0.1M390 330h0.1M233 305h0.1M238 320h0.1M240 330h0.1M245 345h0.1M250 360h0.1M258 372h0.1M265 385h0.1M270 400h0.1M268 410h0.1M285 310h0.1M290 320h0.1M278 325h0.1M170 330h0.1M165 345h0.1M175 355h0.1M150 340h0.1M330 325h0.1M345 330h0.1M355 345h0.1M350 360h0.1M345 375h0.1M335 380h0.1M325 385h0.1M315 395h0.1M305 405h0.1M295 390h0.1M290 375h0.1M300 360h0.1M325 410h0.1M315 405h0.1M300 405h0.1M370 395h0.1M275 355h0.1M280 365h0.1M160 385h0.1M170 395h0.1M180 400h0.1M190 390h0.1M195 375h0.1M200 390h0.1M210 395h0.1M228 402h0.1M90 390h0.1M100 385h0.1M85 400h0.1M117 420h0.1M213 437h0.1M268 443h0.1M265 448h0.1M92 490h0.1M110 492h0.1M155 483h0.1M263 527h0.1M185 605h0.1M168 623h0.1M236 611h0.1M275 643h0.1M205 665h0.1M215 663h0.1M220 665h0.1M252 657h0.1M180 682h0.1M407 677h0.1M463 662h0.1M460 680h0.1M477 680h0.1M288 728h0.1M172 745h0.1M215 812h0.1M440 878h0.1M473 885h0.1M312 922h0.1M352 940h0.1M272 970h0.1
M658 50h0.1M655 65h0.1M657 115h0.1M662 175h0.1M660 185h0.1M650 210h0.1M645 220h0.1M655 258h0.1M665 265h0.1M645 305h0.1M648 310h0.1M690 330h0.1M738 330h0.1M772 345h0.1M825 315h0.1M852 320h0.1M790 305h0.1M795 320h0.1M800 335h0.1M805 345h0.1M812 355h0.1M820 360h0.1M810 370h0.1M725 345h0.1M730 355h0.1M655 360h0.1M650 375h0.1M640 385h0.1M645 395h0.1M665 400h0.1M660 390h0.1M665 378h0.1M695 368h0.1M700 380h0.1M690 395h0.1M725 365h0.1M740 375h0.1M750 385h0.1M745 400h0.1M735 400h0.1M720 395h0.1M755 365h0.1M765 375h0.1M775 385h0.1M760 395h0.1M770 360h0.1M780 350h0.1M710 405h0.1M718 425h0.1M700 405h0.1M800 380h0.1M812 385h0.1M825 390h0.1M835 375h0.1M850 385h0.1M855 400h0.1M840 395h0.1M835 365h0.1M900 385h0.1M910 375h0.1M890 395h0.1M905 400h0.1M885 405h0.1M880 380h0.1M920 355h0.1M930 340h0.1M940 345h0.1M945 365h0.1M935 372h0.1M925 370h0.1M935 335h0.1M950 355h0.1M820 425h0.1M830 420h0.1M825 440h0.1M800 440h0.1M790 455h0.1M775 460h0.1M785 470h0.1M800 475h0.1M805 460h0.1M660 450h0.1M670 455h0.1M650 492h0.1M713 485h0.1M718 495h0.1M813 525h0.1M820 530h0.1M830 562h0.1M698 577h0.1M703 605h0.1M730 602h0.1M725 622h0.1M780 610h0.1M675 643h0.1M830 643h0.1M780 668h0.1M840 683h0.1M802 705h0.1M845 728h0.1M965 597h0.1M965 677h0.1M727 746h0.1M747 770h0.1M718 803h0.1M765 857h0.1M745 872h0.1M998 770h0.1M1007 868h0.1M765 945h0.1M790 942h0.1M860 941h0.1M903 950h0.1M860 958h0.1M843 977h0.1M806 995h0.1M867 1007h0.1M880 1028h0.1M1017 966h0.1"/>

<path transform="translate(397,540) scale(0.333333)" d="M92 40h0.1M95 50h0.1M97 60h0.1M100 55h0.1M97 115h0.1M93 155h0.1M95 175h0.1M100 180h0.1M105 185h0.1M98 190h0.1M90 185h0.1M80 215h0.1M88 222h0.1M155 248h0.1M85 270h0.1M85 295h0.1M90 300h0.1M95 305h0.1M100 330h0.1M120 315h0.1M130 330h0.1M140 300h0.1M110 315h0.1M232 308h0.1M290 318h0.1M320 298h0.1M358 305h0.1M245 340h0.1M250 355h0.1M255 365h0.1M265 375h0.1M270 390h0.1M275 405h0.1M280 380h0.1M290 370h0.1M295 395h0.1M315 360h0.1M320 385h0.1M330 400h0.1M340 400h0.1M310 405h0.1M360 325h0.1M370 340h0.1M375 350h0.1M385 345h0.1M390 355h0.1M380 365h0.1M370 360h0.1M365 330h0.1M85 365h0.1M90 375h0.1M95 385h0.1M88 393h0.1M100 370h0.1M130 360h0.1M170 360h0.1M180 375h0.1M185 383h0.1M165 390h0.1M160 400h0.1M202 400h0.1M225 402h0.1M265 443h0.1M98 455h0.1M225 470h0.1M100 495h0.1M120 497h0.1M158 495h0.1M175 485h0.1M180 492h0.1M200 493h0.1M245 510h0.1M255 522h0.1M262 528h0.1M92 578h0.1M220 610h0.1M242 613h0.1M112 643h0.1M270 643h0.1M130 678h0.1M345 658h0.1M405 677h0.1M444 678h0.1M463 683h0.1M480 635h0.1M272 718h0.1M293 785h0.1M312 778h0.1M258 822h0.1M227 866h0.1M225 902h0.1M343 948h0.1M268 970h0.1M357 970h0.1M455 970h0.1M320 1027h0.1
M655 50h0.1M657 65h0.1M655 115h0.1M655 178h0.1M660 185h0.1M650 190h0.1M645 207h0.1M662 210h0.1M712 213h0.1M678 247h0.1M713 247h0.1M645 310h0.1M650 320h0.1M655 330h0.1M645 365h0.1M655 382h0.1M880 297h0.1M848 310h0.1M840 320h0.1M835 335h0.1M820 345h0.1M810 355h0.1M825 375h0.1M830 390h0.1M820 400h0.1M840 410h0.1M850 390h0.1M860 380h0.1M870 360h0.1M880 350h0.1M885 320h0.1M890 330h0.1M905 330h0.1M915 340h0.1M925 345h0.1M935 350h0.1M940 360h0.1M930 375h0.1M920 385h0.1M905 390h0.1M890 410h0.1M870 400h0.1M855 370h0.1M840 360h0.1M850 350h0.1M730 380h0.1M740 375h0.1M745 385h0.1M720 400h0.1M725 405h0.1M730 390h0.1M790 388h0.1M657 455h0.1M640 490h0.1M645 493h0.1M800 470h0.1M805 478h0.1M760 495h0.1M815 525h0.1M820 525h0.1M658 605h0.1M700 597h0.1M777 610h0.1M672 645h0.1M830 645h0.1M978 648h0.1M1018 637h0.1M963 677h0.1M1025 683h0.1M1030 680h0.1M843 728h0.1M727 746h0.1M735 790h0.1M750 828h0.1M787 940h0.1M775 965h0.1M785 965h0.1M910 940h0.1M878 1027h0.1"/>

<path transform="translate(770,540) scale(0.333333)" d="M95 50h0.1M93 68h0.1M93 115h0.1M95 175h0.1M100 182h0.1M82 192h0.1M90 210h0.1M85 220h0.1M117 247h0.1M157 302h0.1M215 297h0.1M322 303h0.1M360 305h0.1M280 310h0.1M285 320h0.1M280 335h0.1M275 350h0.1M270 360h0.1M165 330h0.1M160 345h0.1M175 350h0.1M185 360h0.1M175 375h0.1M190 380h0.1M185 410h0.1M205 320h0.1M210 330h0.1M200 340h0.1M215 340h0.1M250 350h0.1M255 365h0.1M260 380h0.1M265 395h0.1M270 405h0.1M285 400h0.1M295 395h0.1M305 380h0.1M310 370h0.1M300 355h0.1M290 350h0.1M215 375h0.1M360 310h0.1M370 325h0.1M380 335h0.1M390 345h0.1M385 360h0.1M375 375h0.1M365 365h0.1M355 380h0.1M345 395h0.1M340 410h0.1M330 410h0.1M85 385h0.1M90 390h0.1M95 455h0.1M157 487h0.1M160 495h0.1M270 432h0.1M265 445h0.1M255 470h0.1M230 465h0.1M225 493h0.1M245 510h0.1M255 525h0.1M262 528h0.1M130 558h0.1M147 580h0.1M180 605h0.1M285 597h0.1M368 590h0.1M110 643h0.1M270 643h0.1M218 667h0.1M418 697h0.1M415 818h0.1M340 843h0.1M392 848h0.1M447 882h0.1M350 940h0.1M318 1027h0.1
M655 50h0.1M660 55h0.1M655 175h0.1M660 185h0.1M655 195h0.1M645 220h0.1M675 247h0.1M635 300h0.1M640 305h0.1M640 385h0.1M645 375h0.1M655 370h0.1M638 398h0.1M655 455h0.1M705 452h0.1M710 458h0.1M730 475h0.1M740 485h0.1M750 492h0.1M760 495h0.1M717 398h0.1M725 362h0.1M735 375h0.1M745 382h0.1M755 402h0.1M785 320h0.1M785 428h0.1M805 350h0.1M810 365h0.1M815 380h0.1M820 395h0.1M825 405h0.1M830 420h0.1M835 330h0.1M845 325h0.1M850 335h0.1M830 350h0.1M840 350h0.1M845 405h0.1M880 298h0.1M885 345h0.1M905 335h0.1M930 335h0.1M920 345h0.1M915 365h0.1M900 380h0.1M910 385h0.1M920 390h0.1M888 412h0.1M720 545h0.1M755 553h0.1M640 560h0.1M645 565h0.1M705 580h0.1M750 605h0.1M805 500h0.1M810 490h0.1M815 475h0.1M815 525h0.1M830 628h0.1M830 645h0.1M945 610h0.1M1013 653h0.1M960 677h0.1M842 728h0.1M722 746h0.1M985 780h0.1M995 770h0.1M1005 882h0.1M770 890h0.1M765 943h0.1M785 942h0.1M910 942h0.1M840 976h0.1M845 1032h0.1M865 1030h0.1M875 1025h0.1"/>

<path transform="translate(1141,540) scale(0.333333)" d="M98 60h0.1M100 68h0.1M98 180h0.1M100 188h0.1M120 247h0.1M87 307h0.1M138 300h0.1M138 325h0.1M200 310h0.1M205 318h0.1M210 325h0.1M215 335h0.1M95 370h0.1M100 375h0.1M80 398h0.1M95 380h0.1M115 433h0.1M98 455h0.1M142 368h0.1M165 355h0.1M175 365h0.1M180 375h0.1M185 385h0.1M175 395h0.1M168 405h0.1M160 380h0.1M160 410h0.1M150 445h0.1M155 452h0.1M225 370h0.1M218 375h0.1M250 350h0.1M255 365h0.1M275 332h0.1M275 350h0.1M290 320h0.1M322 318h0.1M265 382h0.1M275 395h0.1M290 400h0.1M300 405h0.1M310 410h0.1M285 415h0.1M280 430h0.1M275 440h0.1M270 450h0.1M330 412h0.1M345 380h0.1M350 395h0.1M355 400h0.1M360 310h0.1M365 325h0.1M370 335h0.1M375 345h0.1M365 355h0.1M370 365h0.1M375 375h0.1M365 385h0.1M355 375h0.1M340 385h0.1M358 345h0.1M160 496h0.1M258 524h0.1M168 549h0.1M175 580h0.1M178 593h0.1M182 605h0.1M225 583h0.1M222 610h0.1M270 643h0.1M298 641h0.1M375 637h0.1M415 662h0.1M450 618h0.1M468 660h0.1M474 665h0.1M475 680h0.1M465 698h0.1M355 670h0.1M168 678h0.1M287 728h0.1M475 737h0.1M170 745h0.1M168 773h0.1M445 797h0.1M435 873h0.1M205 942h0.1M215 942h0.1M225 940h0.1M232 942h0.1M248 973h0.1M352 941h0.1M446 938h0.1M320 1027h0.1M318 1045h0.1M315 1060h0.1"/>
</g>
</svg>
</body></html>
